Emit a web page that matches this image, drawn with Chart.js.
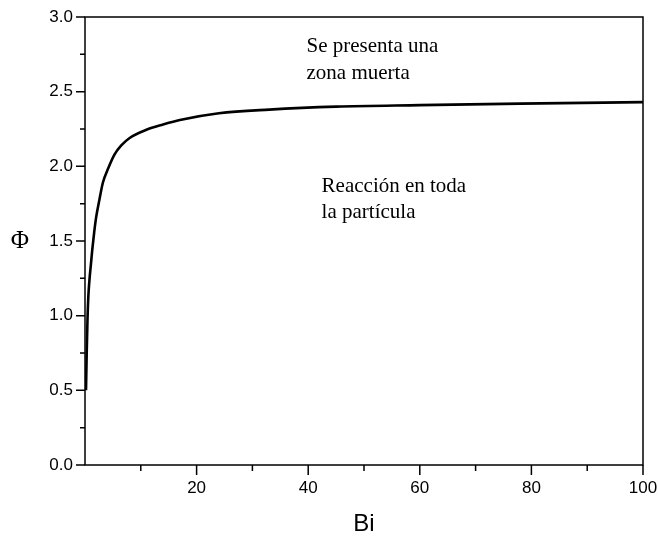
<!DOCTYPE html>
<html>
<head>
<meta charset="utf-8">
<script src="https://cdn.jsdelivr.net/npm/chart.js@4"></script>
<style>
  html, body { margin: 0; padding: 0; background: #ffffff; }
  #wrap { width: 658px; height: 539px; }
</style>
</head>
<body>
<div id="wrap"><canvas id="chart" width="658" height="539"></canvas></div>
<script>
// Thiele modulus Φ against Biot number Bi
const biValues  = [0.18, 0.3, 0.45, 0.6, 0.8, 1.05, 1.3, 1.65, 2.0, 2.6, 3.2, 4.2, 5.3, 6.5, 8, 11, 14, 17, 24, 33, 45, 60, 78, 100];
const phiValues = [0.50, 0.74, 0.98, 1.13, 1.24, 1.34, 1.44, 1.56, 1.66, 1.78, 1.89, 1.99, 2.08, 2.14, 2.19, 2.245, 2.28, 2.31, 2.355, 2.38, 2.40, 2.41, 2.42, 2.43];

// axis ticks
const xMajorTicks = [20, 40, 60, 80, 100];
const xMinorTicks = [10, 30, 50, 70, 90];
const yMajorTicks = [0.0, 0.5, 1.0, 1.5, 2.0, 2.5, 3.0];
const yMinorTicks = [0.25, 0.75, 1.25, 1.75, 2.25, 2.75];

// region notes, anchored in data units (left edge of each line)
const noteLines = [
  { text: 'Se presenta una', bi: 39.7, phi: 2.80 },
  { text: 'zona muerta',     bi: 39.7, phi: 2.625 },
  { text: 'Reacción en toda', bi: 42.4, phi: 1.864 },
  { text: 'la partícula',     bi: 42.4, phi: 1.69 }
];

const SANS = '"Liberation Sans", Arial, Helvetica, sans-serif';
const SERIF = '"Liberation Serif", "Times New Roman", serif';

const points = biValues.map((b, i) => ({ x: b, y: phiValues[i] }));

const framePlugin = {
  id: 'frameAndTicks',
  afterDraw(chart) {
    const { ctx, chartArea: a, scales } = chart;
    const xs = scales.x, ys = scales.y;
    ctx.save();
    ctx.strokeStyle = '#000';
    ctx.lineWidth = 1.5;
    ctx.strokeRect(a.left, a.top, a.right - a.left, a.bottom - a.top);
    ctx.beginPath();
    xMajorTicks.forEach(v => { const p = xs.getPixelForValue(v); ctx.moveTo(p, a.bottom); ctx.lineTo(p, a.bottom + 10); });
    xMinorTicks.forEach(v => { const p = xs.getPixelForValue(v); ctx.moveTo(p, a.bottom); ctx.lineTo(p, a.bottom + 6); });
    yMajorTicks.forEach(v => { const p = ys.getPixelForValue(v); ctx.moveTo(a.left, p); ctx.lineTo(a.left - 9, p); });
    yMinorTicks.forEach(v => { const p = ys.getPixelForValue(v); ctx.moveTo(a.left, p); ctx.lineTo(a.left - 5, p); });
    ctx.stroke();

    // y-axis symbol, upright
    ctx.fillStyle = '#000';
    ctx.font = '25px ' + SERIF;
    ctx.textAlign = 'center';
    ctx.textBaseline = 'middle';
    ctx.fillText('Φ', 20, (a.top + a.bottom) / 2);

    // region notes
    ctx.font = '21px ' + SERIF;
    ctx.textAlign = 'left';
    ctx.textBaseline = 'middle';
    noteLines.forEach(n => {
      ctx.fillText(n.text, xs.getPixelForValue(n.bi), ys.getPixelForValue(n.phi));
    });
    ctx.restore();
  }
};

new Chart(document.getElementById('chart'), {
  type: 'line',
  data: {
    datasets: [{
      data: points,
      borderColor: '#000',
      borderWidth: 2.6,
      pointRadius: 0,
      fill: false,
      cubicInterpolationMode: 'monotone'
    }]
  },
  options: {
    responsive: false,
    animation: false,
    events: [],
    layout: { padding: { top: 17, right: 15, left: 0, bottom: 0 } },
    plugins: { legend: { display: false }, tooltip: { enabled: false } },
    scales: {
      x: {
        type: 'linear',
        min: 0,
        max: 100,
        afterFit(s) { s.height = 74; s.paddingLeft = 0; s.paddingRight = 0; },
        grid: { display: false, drawTicks: false },
        border: { display: false },
        afterBuildTicks(s) { s.ticks = xMajorTicks.map(v => ({ value: v })); },
        ticks: {
          color: '#000',
          padding: 13,
          maxRotation: 0,
          font: { family: SANS, size: 17 },
          callback: v => String(v)
        },
        title: {
          display: true,
          text: 'Bi',
          color: '#000',
          font: { family: SANS, size: 24 },
          padding: { top: 0, bottom: 0 }
        }
      },
      y: {
        type: 'linear',
        min: 0,
        max: 3,
        afterFit(s) { s.width = 85; s.paddingTop = 0; s.paddingBottom = 0; },
        grid: { display: false, drawTicks: false },
        border: { display: false },
        afterBuildTicks(s) { s.ticks = yMajorTicks.map(v => ({ value: v })); },
        ticks: {
          color: '#000',
          padding: 12,
          font: { family: SANS, size: 17 },
          callback: v => Number(v).toFixed(1)
        }
      }
    }
  },
  plugins: [framePlugin]
});
</script>
</body>
</html>
